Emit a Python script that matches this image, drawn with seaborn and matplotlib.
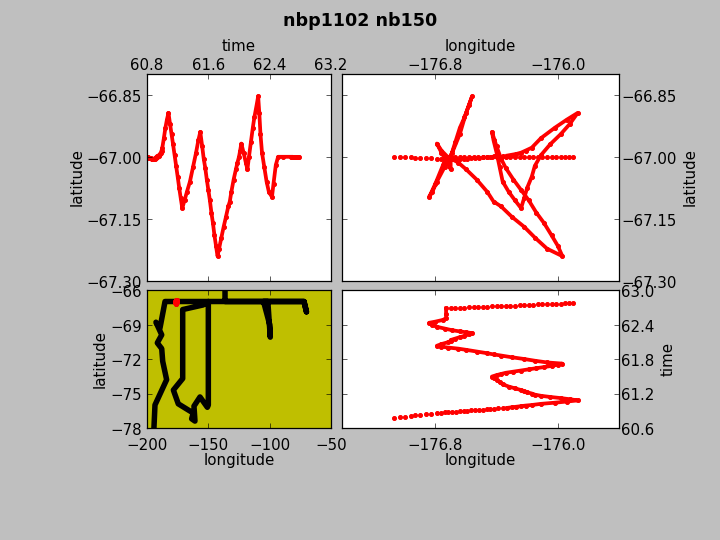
import matplotlib
matplotlib.use('Agg')
import matplotlib.pyplot as plt
from matplotlib.transforms import ScaledTranslation
import seaborn as sns

# ship track
time = [60.78, 60.79, 60.80, 60.81, 60.82, 60.83, 60.84, 60.85,
        60.86, 60.865, 60.87, 60.875, 60.88, 60.885, 60.89, 60.895, 60.90, 60.905,
        60.91, 60.915, 60.92, 60.925, 60.93, 60.935, 60.94, 60.945, 60.95,
        60.96, 60.97, 60.98, 60.99, 61.00, 61.02, 61.04, 61.06, 61.08, 61.10, 61.12, 61.14,
        61.16, 61.18, 61.20, 61.22, 61.24, 61.26, 61.29, 61.32, 61.36, 61.40,
        61.44, 61.47, 61.495, 61.52, 61.54, 61.56, 61.58, 61.60, 61.62, 61.64,
        61.66, 61.68, 61.70, 61.72, 61.74, 61.77, 61.80, 61.83, 61.86, 61.88,
        61.90, 61.93, 61.96, 61.98, 62.00, 62.015, 62.03, 62.06, 62.09, 62.11,
        62.13, 62.155, 62.18, 62.20, 62.23, 62.25, 62.265, 62.28, 62.30, 62.33,
        62.36, 62.39, 62.43, 62.45, 62.48, 62.51, 62.58, 62.68,
        62.685, 62.69, 62.69, 62.695, 62.70, 62.70, 62.705, 62.71, 62.71, 62.715,
        62.72, 62.72, 62.725, 62.73, 62.73, 62.735, 62.74, 62.74, 62.745, 62.75,
        62.75, 62.755, 62.76, 62.76, 62.765, 62.77, 62.775, 62.78]
lat = [-67.000, -67.000, -67.000, -67.000, -67.003, -67.003, -67.004, -67.004,
       -67.005, -67.005, -67.006, -67.006, -67.006, -67.006, -67.006, -67.005, -67.005, -67.004,
       -67.003, -67.002, -67.001, -67.000, -67.000, -66.999, -66.998, -66.998, -66.997,
       -66.995, -66.993, -66.990, -66.985, -66.978, -66.955, -66.930, -66.910, -66.894, -66.920, -66.945, -66.970,
       -66.996, -67.022, -67.048, -67.075, -67.100, -67.124, -67.105, -67.085, -67.060, -67.025,
       -66.990, -66.960, -66.940, -66.975, -67.005, -67.027, -67.055, -67.080, -67.105, -67.135,
       -67.160, -67.190, -67.215, -67.240, -67.222, -67.195, -67.169, -67.145, -67.120, -67.108,
       -67.085, -67.055, -67.030, -67.014, -67.000, -66.985, -66.968, -66.990, -67.015, -67.030,
       -67.000, -66.965, -66.930, -66.905, -66.875, -66.854, -66.895, -66.945, -66.990, -67.025,
       -67.060, -67.085, -67.097, -67.065, -67.020, -67.000, -67.000, -67.000,
       -67.000, -67.000, -67.000, -67.000, -67.000, -67.000, -67.000, -67.000, -67.000, -67.000,
       -67.000, -67.000, -67.000, -67.000, -67.000, -67.000, -67.000, -67.000, -67.000, -67.000,
       -67.000, -67.000, -67.000, -67.000, -67.000, -67.000, -67.000, -67.000]
lon = [-177.07, -177.03, -177.00, -176.96, -176.93, -176.90, -176.86, -176.83,
       -176.79, -176.765, -176.74, -176.715, -176.69, -176.665, -176.64, -176.615, -176.59, -176.565,
       -176.54, -176.515, -176.49, -176.465, -176.44, -176.415, -176.39, -176.36, -176.33,
       -176.30, -176.27, -176.24, -176.21, -176.17, -176.11, -176.02, -175.94, -175.87, -175.92, -175.98, -176.05,
       -176.11, -176.15, -176.17, -176.20, -176.22, -176.24, -176.28, -176.32, -176.36, -176.38,
       -176.40, -176.42, -176.43, -176.40, -176.37, -176.34, -176.29, -176.24, -176.19, -176.14,
       -176.09, -176.04, -176.00, -175.97, -176.07, -176.15, -176.22, -176.30, -176.37, -176.42,
       -176.46, -176.53, -176.60, -176.65, -176.72, -176.76, -176.79, -176.76, -176.72, -176.70,
       -176.70, -176.67, -176.64, -176.61, -176.58, -176.56, -176.60, -176.64, -176.69, -176.74,
       -176.79, -176.82, -176.84, -176.80, -176.75, -176.73, -176.73, -176.73,
       -176.70, -176.67, -176.64, -176.61, -176.58, -176.55, -176.52, -176.49, -176.46, -176.43,
       -176.40, -176.37, -176.34, -176.31, -176.28, -176.25, -176.22, -176.19, -176.16, -176.13,
       -176.10, -176.07, -176.04, -176.01, -175.98, -175.95, -175.925, -175.90]

# cruise overview in the small map panel
map_lon = [-136.4, -136.4, -72.0, -70.0, -72.0, -105.0, -100.0, -99.5, -101.5, -150.0,
           -150.0, -150.8, -156.8, -161.7, -160.9, -163.6, -162.3, -174.5, -178.5, -170.9,
           -170.9, -154.3, -150.0, -185.3, -189.4, -192.7, -188.0, -191.6, -188.0, -187.2,
           -184.0, -193.5, -194.3]
map_lat = [-66.0, -67.0, -67.0, -67.9, -67.0, -67.0, -69.0, -70.1, -67.0, -67.0,
           -76.0, -76.2, -75.3, -76.1, -77.4, -77.2, -76.7, -75.9, -74.7, -73.7,
           -67.7, -67.3, -67.0, -67.0, -69.3, -68.8, -69.9, -70.6, -71.1, -72.2,
           -73.8, -76.0, -77.9]

lat_ticks = [-66.85, -67.00, -67.15, -67.30]
lat_labels = ['\u221266.85', '\u221267.00', '\u221267.15', '\u221267.30']
lon_ticks = [-176.8, -176.0]
lon_labels = ['\u2212176.8', '\u2212176.0']

plt.style.use('classic')
fig = plt.figure(figsize=(8, 6), dpi=90, facecolor='#bfbfbf')


def panel(x0, y0, x1, y1):
    # axes box given in image pixels
    return fig.add_axes([x0 / 720, (540 - y1) / 540, (x1 - x0) / 720, (y1 - y0) / 540])


def track(ax, xs, ys, color='r', lw=3.0, ms=6.5):
    # dots everywhere, the solid band only where the dots run together
    sns.lineplot(x=xs, y=ys, ax=ax, sort=False, estimator=None, color=color,
                 linewidth=0, marker='.', markersize=ms, markeredgecolor=color)
    sns.lineplot(x=xs[26:-28], y=ys[26:-28], ax=ax, sort=False, estimator=None,
                 color=color, linewidth=lw)


def nudge_ylabels(ax):
    # tick labels sit a little lower in the original
    off = ScaledTranslation(0, -2.5 / 90, fig.dpi_scale_trans)
    for lab in ax.get_yticklabels():
        lab.set_transform(lab.get_transform() + off)


# latitude vs time
ax1 = panel(147, 74, 331, 281)
track(ax1, time, lat)
ax1.set_xlim(60.8, 63.2)
ax1.set_ylim(-67.3, -66.8)
ax1.set_xticks([60.8, 61.6, 62.4, 63.2])
ax1.set_xticklabels(['60.8', '61.6', '62.4', '63.2'])
ax1.set_yticks(lat_ticks)
ax1.set_yticklabels(lat_labels)
ax1.tick_params(axis='x', labeltop=True, labelbottom=False, pad=0.8)
ax1.xaxis.set_label_position('top')
ax1.set_xlabel('time', labelpad=5.8)
ax1.set_ylabel('latitude', labelpad=1.8)
nudge_ylabels(ax1)

# latitude vs longitude
ax2 = panel(342, 74, 619, 281)
track(ax2, lon, lat)
ax2.set_xlim(-177.41, -175.6)
ax2.set_ylim(-67.3, -66.8)
ax2.set_xticks(lon_ticks)
ax2.set_xticklabels(lon_labels)
ax2.set_yticks(lat_ticks)
ax2.set_yticklabels(lat_labels)
ax2.tick_params(axis='x', labeltop=True, labelbottom=False, pad=0.8)
ax2.tick_params(axis='y', labelright=True, labelleft=False, pad=1.6)
ax2.xaxis.set_label_position('top')
ax2.yaxis.set_label_position('right')
ax2.set_xlabel('longitude', labelpad=5.8)
ax2.set_ylabel('latitude')
nudge_ylabels(ax2)

# map
ax3 = panel(147, 290, 331, 428)
ax3.set_facecolor('#bfbf00')
sns.lineplot(x=map_lon, y=map_lat, ax=ax3, sort=False, estimator=None, color='k',
             linewidth=4.4)
sns.lineplot(x=lon, y=lat, ax=ax3, sort=False, estimator=None, color='r',
             linewidth=2, marker='.', markersize=6, markeredgecolor='r')
ax3.set_xlim(-200, -50)
ax3.set_ylim(-78, -66)
ax3.set_xticks([-200, -150, -100, -50])
ax3.set_xticklabels(['\u2212200', '\u2212150', '\u2212100', '\u221250'])
ax3.set_yticks([-78, -75, -72, -69, -66])
ax3.set_yticklabels(['\u221278', '\u221275', '\u221272', '\u221269', '\u221266'])
ax3.tick_params(axis='x', pad=7.6)
ax3.set_xlabel('longitude', labelpad=0)
ax3.set_ylabel('latitude', labelpad=1.8)
nudge_ylabels(ax3)

# time vs longitude
ax4 = panel(342, 290, 619, 428)
track(ax4, lon, time)
ax4.set_xlim(-177.41, -175.6)
ax4.set_ylim(60.6, 63.0)
ax4.set_xticks(lon_ticks)
ax4.set_xticklabels(lon_labels)
ax4.set_yticks([60.6, 61.2, 61.8, 62.4, 63.0])
ax4.set_yticklabels(['60.6', '61.2', '61.8', '62.4', '63.0'])
ax4.tick_params(axis='x', pad=7.6)
ax4.tick_params(axis='y', labelright=True, labelleft=False, pad=1.6)
ax4.yaxis.set_label_position('right')
ax4.set_xlabel('longitude', labelpad=0)
ax4.set_ylabel('time')
nudge_ylabels(ax4)

fig.text(0.5, 1 - 21.5 / 540, 'nbp1102 nb150', ha='center', va='center', fontsize=14, fontweight='bold')
fig.savefig('out.png', dpi=90, facecolor=fig.get_facecolor())
